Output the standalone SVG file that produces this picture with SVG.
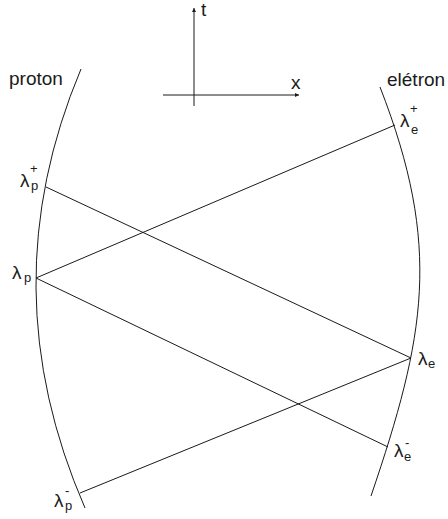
<svg xmlns="http://www.w3.org/2000/svg" width="448" height="519" viewBox="0 0 448 519">
<style>
.ln{stroke:#1a1a1a;stroke-width:1;fill:none}
.lbl{font-family:"Liberation Sans",Arial,sans-serif;font-size:19px;fill:#1a1a1a}
.sub{font-family:"Liberation Sans",Arial,sans-serif;font-size:13px;fill:#1a1a1a}
</style>
<defs>
<marker id="ah" viewBox="0 0 6 6" refX="6" refY="3" markerWidth="4" markerHeight="4" orient="auto" markerUnits="userSpaceOnUse">
<path d="M0,0 L6,3 L0,6 Z" fill="#1a1a1a"/>
</marker>
</defs>
<g id="axes">
<line class="ln" x1="194" y1="106" x2="194" y2="8" marker-end="url(#ah)"/>
<line class="ln" x1="163" y1="95" x2="299" y2="95" marker-end="url(#ah)"/>
<text class="lbl" x="201" y="16">t</text>
<text class="lbl" x="291" y="89">x</text>
</g>
<g id="proton">
<path class="ln" d="M81,69 Q-11,287.5 85,508"/>
<text class="lbl" x="9" y="85">proton</text>
</g>
<g id="eletron">
<path class="ln" d="M380,87 C442.4,247 425.4,336 371,496"/>
<text class="lbl" x="387" y="86">elétron</text>
</g>
<g id="connectors">
<line class="ln" x1="395" y1="125" x2="36" y2="278"/>
<line class="ln" x1="46" y1="187" x2="411" y2="358"/>
<line class="ln" x1="36" y1="278" x2="388" y2="447"/>
<line class="ln" x1="411" y1="358" x2="80" y2="493"/>
</g>
<g id="lambda-p-plus">
<text class="lbl" x="20" y="187">λ</text>
<text class="sub" x="31" y="190">p</text>
<text class="sub" x="30" y="173">+</text>
</g>
<g id="lambda-p">
<text class="lbl" x="12" y="279">λ</text>
<text class="sub" x="24" y="282">p</text>
</g>
<g id="lambda-p-minus">
<text class="lbl" x="54" y="507">λ</text>
<text class="sub" x="65" y="510">p</text>
<text class="sub" x="65" y="495">-</text>
</g>
<g id="lambda-e-plus">
<text class="lbl" x="400" y="127">λ</text>
<text class="sub" x="411" y="134">e</text>
<text class="sub" x="410" y="113">+</text>
</g>
<g id="lambda-e">
<text class="lbl" x="418" y="365">λ</text>
<text class="sub" x="428" y="368">e</text>
</g>
<g id="lambda-e-minus">
<text class="lbl" x="394" y="457">λ</text>
<text class="sub" x="404" y="461">e</text>
<text class="sub" x="405" y="447">-</text>
</g>
</svg>
